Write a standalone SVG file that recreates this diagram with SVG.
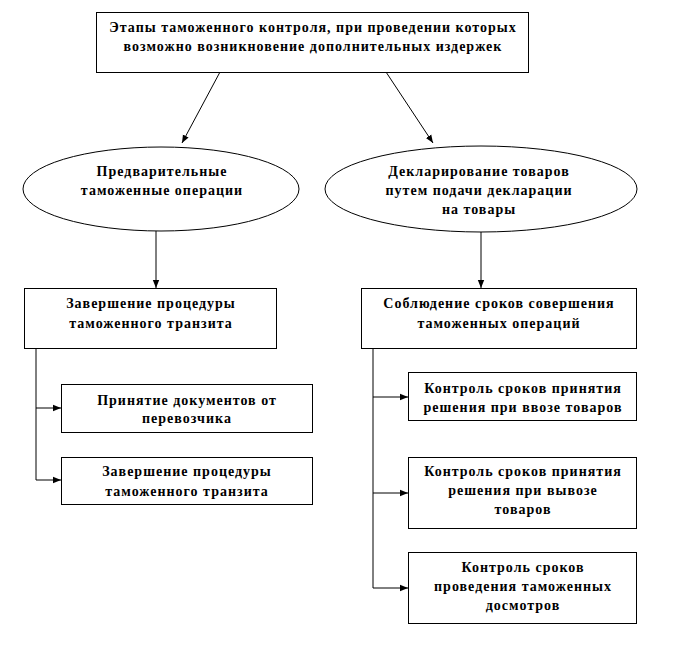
<svg xmlns="http://www.w3.org/2000/svg" width="673" height="649" viewBox="0 0 673 649">
<defs>
<style>
.b{fill:#fff;stroke:#000;stroke-width:1}
.t{font-family:"Liberation Serif","Times New Roman",serif;font-weight:bold;font-size:14px;letter-spacing:1px;text-anchor:middle;fill:#000}
.c{stroke:#000;stroke-width:1;fill:none}
</style>
<marker id="a" viewBox="0 0 10 10" refX="10" refY="5" markerWidth="8" markerHeight="8" orient="auto" markerUnits="userSpaceOnUse">
<path d="M0,1 L10,5 L0,9 z" fill="#000"/>
</marker>
</defs>
<rect width="673" height="649" fill="#fff"/>
<g id="connectors">
<line class="c" x1="220" y1="72" x2="182" y2="143" marker-end="url(#a)"/>
<line class="c" x1="386" y1="72" x2="433" y2="143" marker-end="url(#a)"/>
<line class="c" x1="156" y1="231" x2="156" y2="288" marker-end="url(#a)"/>
<line class="c" x1="481" y1="232" x2="481" y2="288" marker-end="url(#a)"/>
<polyline class="c" points="36,348 36,480"/>
<line class="c" x1="36" y1="408" x2="61" y2="408" marker-end="url(#a)"/>
<line class="c" x1="36" y1="480" x2="61" y2="480" marker-end="url(#a)"/>
<polyline class="c" points="373,348 373,588"/>
<line class="c" x1="373" y1="397" x2="408" y2="397" marker-end="url(#a)"/>
<line class="c" x1="373" y1="493" x2="408" y2="493" marker-end="url(#a)"/>
<line class="c" x1="373" y1="588" x2="408" y2="588" marker-end="url(#a)"/>
</g>
<g id="top">
<rect class="b" x="96.5" y="12.5" width="432" height="60"/>
<text class="t" x="313" y="32">Этапы таможенного контроля, при проведении которых</text>
<text class="t" x="313" y="51">возможно возникновение дополнительных издержек</text>
</g>
<g id="prelim">
<ellipse class="b" cx="161" cy="189" rx="138" ry="42"/>
<text class="t" x="162" y="176">Предварительные</text>
<text class="t" x="162" y="195">таможенные операции</text>
</g>
<g id="declar">
<ellipse class="b" cx="481" cy="189" rx="156" ry="43"/>
<text class="t" x="479" y="176">Декларирование товаров</text>
<text class="t" x="479" y="195">путем подачи декларации</text>
<text class="t" x="479" y="214">на товары</text>
</g>
<g id="transit">
<rect class="b" x="24.5" y="288.5" width="252" height="60"/>
<text class="t" x="151" y="308">Завершение процедуры</text>
<text class="t" x="151" y="328">таможенного транзита</text>
</g>
<g id="terms">
<rect class="b" x="361.5" y="288.5" width="275" height="60"/>
<text class="t" x="499" y="308">Соблюдение сроков совершения</text>
<text class="t" x="499" y="328">таможенных операций</text>
</g>
<g id="docs">
<rect class="b" x="61.5" y="384.5" width="251" height="48"/>
<text class="t" x="187" y="405">Принятие документов от</text>
<text class="t" x="187" y="423">перевозчика</text>
</g>
<g id="transit2">
<rect class="b" x="61.5" y="457.5" width="251" height="47"/>
<text class="t" x="187" y="476">Завершение процедуры</text>
<text class="t" x="187" y="496">таможенного транзита</text>
</g>
<g id="import">
<rect class="b" x="408.5" y="372.5" width="228" height="48"/>
<text class="t" x="523" y="393">Контроль сроков принятия</text>
<text class="t" x="523" y="412">решения при ввозе товаров</text>
</g>
<g id="export">
<rect class="b" x="408.5" y="457.5" width="228" height="71"/>
<text class="t" x="523" y="476">Контроль сроков принятия</text>
<text class="t" x="523" y="495">решения при вывозе</text>
<text class="t" x="523" y="514">товаров</text>
</g>
<g id="inspect">
<rect class="b" x="408.5" y="552.5" width="228" height="71"/>
<text class="t" x="523" y="572">Контроль сроков</text>
<text class="t" x="523" y="591">проведения таможенных</text>
<text class="t" x="523" y="610">досмотров</text>
</g>
</svg>
